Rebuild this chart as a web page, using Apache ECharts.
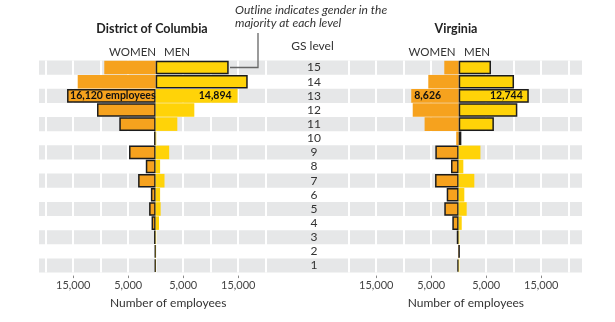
<!DOCTYPE html>
<html><head><meta charset="utf-8">
<script src="https://cdn.jsdelivr.net/npm/echarts@6/dist/echarts.min.js"></script>
<style>html,body{margin:0;padding:0;background:#fff}#c{width:615px;height:322px}</style>
</head><body><div id="c"></div>
<script>
// GS levels, bottom to top
const levels = ['1','2','3','4','5','6','7','8','9','10','11','12','13','14','15'];
const dcWomen = [150,150,300,750,1200,880,3200,1800,4850,300,6620,10670,16120,14180,9350];
const dcMen   = [40,50,80,600,900,800,1600,800,2450,100,3930,7020,14894,16730,13270];
const vaWomen = [250,100,350,1160,2620,2180,4300,1400,4250,450,6200,8360,8626,5530,2620];
const vaMen   = [100,150,120,550,1450,1020,2840,840,3950,480,6400,10660,12744,10060,5870];
const gridLines = [-20000,-15000,-10000,-5000,0,5000,10000,15000,20000];
const tickValues = [-15000,-5000,5000,15000];
const labeledLevel = '13';
const dcWomenLabelSuffix = ' employees';

const WOMEN_C = '#F6A21E', MEN_C = '#FFD308', STRIPE = '#E6E7E8', OUT = '#1c1c1c';
const FONT = 'Lato, "Open Sans", sans-serif';
const PX = 5.5 / 1000;
const TOP = 60.5, H = 212.1;
const panels = [
  {left: 39, right: 348, center: 155.7},
  {left: 348, right: 582, center: 458.7}
];
const fmt = v => Math.abs(v).toLocaleString('en-US');

function barData(own, other, sign, labelPos, suffix) {
  return own.map((v, i) => {
    const item = {value: sign * v};
    if (v > other[i]) item.itemStyle = {borderColor: OUT, borderWidth: 1.5};
    if (levels[i] === labeledLevel) {
      item.label = {show: true, position: labelPos, distance: labelPos === 'insideLeft' ? 3 : 6,
        formatter: fmt(v) + (suffix || ''), fontFamily: 'Lato', fontWeight: 'bold', fontSize: 10.5, color: '#111'};
    }
    return item;
  });
}

const grids = panels.map(p => ({left: p.left, width: p.right - p.left, top: TOP, height: H, outerBoundsMode: 'none', containLabel: false}));
const xAxes = panels.map((p, i) => ({
  type: 'value', gridIndex: i,
  min: -(p.center - p.left) / PX, max: (p.right - p.center) / PX,
  offset: 3,
  axisLine: {show: false}, splitLine: {show: false},
  axisTick: {show: true, customValues: tickValues, length: 2.5, lineStyle: {color: '#888', width: 1}},
  axisLabel: {customValues: tickValues, formatter: v => fmt(v), margin: 4, fontSize: 11, color: '#444', fontFamily: FONT}
}));
const yAxes = panels.map((p, i) => ({
  type: 'category', gridIndex: i, data: levels,
  axisLine: {show: false}, axisTick: {show: false, interval: 0},
  splitLine: {show: false},
  splitArea: {show: true, interval: 0, areaStyle: {color: [STRIPE, 'rgba(255,255,255,0)']}},
  axisLabel: i === 1 ? {show: true, interval: 0, align: 'center', margin: p.left - 314, fontSize: 12, color: '#333', fontFamily: FONT} : {show: false}
}));

const gapLine = {symbol: 'none', silent: true, z: 1, label: {show: false},
  lineStyle: {color: '#fff', width: 2, type: 'solid'}, emphasis: {disabled: true},
  data: gridLines.map(v => ({xAxis: v}))};

const sets = [[dcWomen, dcMen, dcWomenLabelSuffix], [vaWomen, vaMen, '']];
const series = [];
sets.forEach((s, i) => {
  series.push({type: 'bar', name: 'Women', xAxisIndex: i, yAxisIndex: i, stack: 'p' + i, barCategoryGap: '4%',
    itemStyle: {color: WOMEN_C}, z: 3, silent: true, data: barData(s[0], s[1], -1, 'insideLeft', s[2]), markLine: gapLine});
  series.push({type: 'bar', name: 'Men', xAxisIndex: i, yAxisIndex: i, stack: 'p' + i, barCategoryGap: '4%',
    itemStyle: {color: MEN_C}, z: 3, silent: true, data: barData(s[1], s[0], 1, 'insideRight', '')});
});

function txt(text, x, y, font, align, color) {
  return {type: 'text', silent: true, style: {text, x, y, font, fill: color || '#333',
    align: align || 'center', textAlign: align || 'center', verticalAlign: 'middle', textVerticalAlign: 'middle'}};
}

const graphic = [
  txt('District of Columbia', 152, 29, 'bold 12.5px ' + FONT, 'center', '#222'),
  txt('Virginia', 456, 29, 'bold 12.5px ' + FONT, 'center', '#222'),
  txt('WOMEN', 132.5, 52, '11.5px ' + FONT, 'center', '#333'),
  txt('MEN', 177, 52, '11.5px ' + FONT, 'center', '#333'),
  txt('WOMEN', 432, 52, '11.5px ' + FONT, 'center', '#333'),
  txt('MEN', 477, 52, '11.5px ' + FONT, 'center', '#333'),
  txt('GS level', 312.5, 46, '12px ' + FONT, 'center', '#333'),
  txt('Outline indicates gender in the', 235, 10, 'italic 12px ' + FONT, 'left', '#333'),
  txt('majority at each level', 235, 23.5, 'italic 12px ' + FONT, 'left', '#333'),
  txt('Number of employees', 110, 303.5, '12px ' + FONT, 'left', '#333'),
  txt('Number of employees', 407.7, 303.5, '12px ' + FONT, 'left', '#333'),
  {type: 'polyline', silent: true, z: 10, shape: {points: [[258, 33], [258, 67.5], [230, 67.5]]},
    style: {stroke: '#666', lineWidth: 1.3, fill: null}}
];

const chart = echarts.init(document.getElementById('c'), null, {renderer: 'canvas'});
chart.setOption({animation: false, backgroundColor: '#fff', grid: grids, xAxis: xAxes, yAxis: yAxes, series, graphic});
</script></body></html>
